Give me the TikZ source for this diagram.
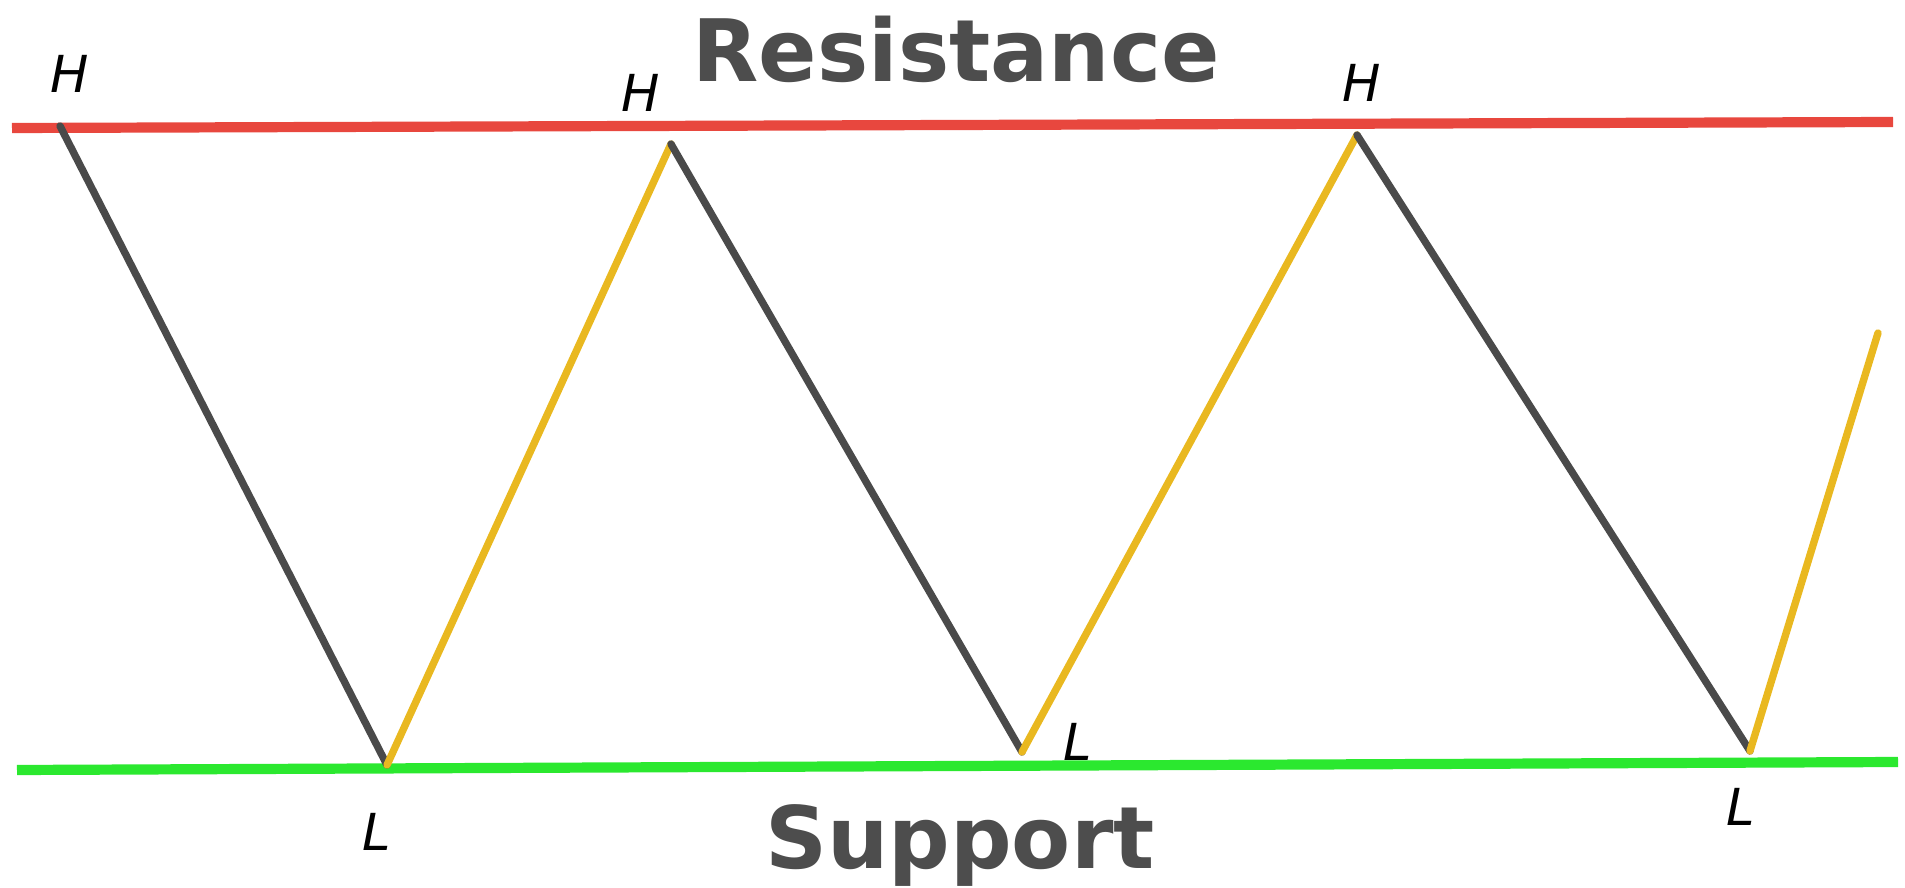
\documentclass[tikz,border=0pt]{standalone}
\usepackage{fontspec}
\setmainfont{DejaVu Sans}
\definecolor{resred}{HTML}{E8473E}
\definecolor{supgreen}{HTML}{2BE82F}
\definecolor{legdark}{HTML}{4A4A4A}
\definecolor{leggold}{HTML}{E9B820}
\definecolor{titlegray}{HTML}{4D4D4D}

\begin{document}
\begin{tikzpicture}[x=0.01cm,y=-0.01cm,
  level/.style={line width=2.9pt},
  fall/.style={draw=legdark,line width=2.1pt,line cap=round},
  rise/.style={draw=leggold,line width=2.1pt,line cap=round},
  swing/.style={font=\itshape\fontsize{14.5}{14.5}\selectfont,anchor=base,inner sep=0pt},
  title/.style={font=\bfseries\fontsize{24.5}{24.5}\selectfont,text=titlegray,anchor=base,inner sep=0pt}]
  \useasboundingbox (0,0) rectangle (1905,888);

  % resistance and support levels
  \coordinate (resW) at (12,128);
  \coordinate (resE) at (1893,122);
  \coordinate (supW) at (17,770);
  \coordinate (supE) at (1898,762);
  \draw[level,draw=resred] (resW) -- (resE);
  \draw[level,draw=supgreen] (supW) -- (supE);

  % swing points
  \coordinate (h1) at (60,126);
  \coordinate (l1) at (387,765);
  \coordinate (h2) at (671,144);
  \coordinate (l2) at (1022,752);
  \coordinate (h3) at (1357,135);
  \coordinate (l3) at (1750,751);
  \coordinate (last) at (1878,333);

  \draw[fall] (h1) -- (l1);
  \draw[rise] (l1) -- (h2);
  \draw[fall] (h2) -- (l2);
  \draw[rise] (l2) -- (h3);
  \draw[fall] (h3) -- (l3);
  \draw[rise] (l3) -- (last);

  \node[swing] (h1lab) at (70,93) {H};
  \node[swing] (h2lab) at (641,112) {H};
  \node[swing] (h3lab) at (1362,102) {H};
  \node[swing] (l1lab) at (377,850) {L};
  \node[swing] (l2lab) at (1078,760) {L};
  \node[swing] (l3lab) at (1741,825) {L};

  \node[title] (restitle) at (956,82) {Resistance};
  \node[title] (suptitle) at (960,868) {Support};
\end{tikzpicture}
\end{document}
